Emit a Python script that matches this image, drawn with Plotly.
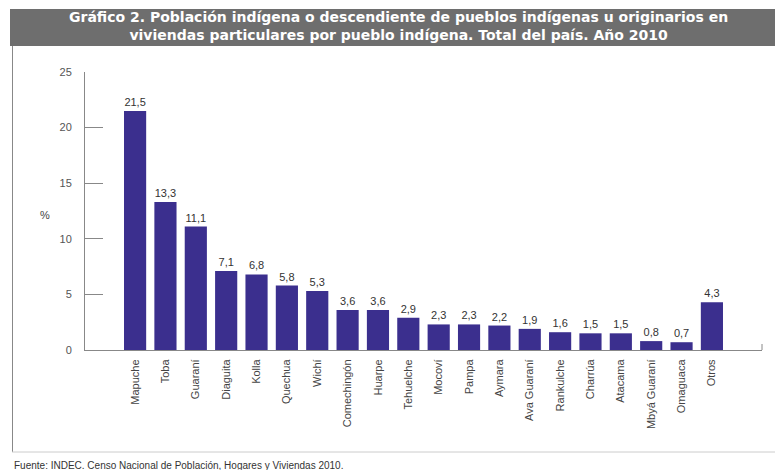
import plotly.graph_objects as go

pueblos = ["Mapuche", "Toba", "Guaraní", "Diaguita", "Kolla", "Quechua", "Wichí",
           "Comechingón", "Huarpe", "Tehuelche", "Mocoví", "Pampa", "Aymara",
           "Ava Guaraní", "Rankulche", "Charrúa", "Atacama", "Mbyá Guaraní",
           "Omaguaca", "Otros"]
porcentajes = [21.5, 13.3, 11.1, 7.1, 6.8, 5.8, 5.3, 3.6, 3.6, 2.9, 2.3, 2.3, 2.2,
               1.9, 1.6, 1.5, 1.5, 0.8, 0.7, 4.3]
y_ticks = [0, 5, 10, 15, 20, 25]

etiquetas = [f"{v:.1f}".replace(".", ",") for v in porcentajes]

W, H = 775, 470
L, R, T, B = 85, 13, 72, 120
pw = W - L - R
ph = H - T - B

def px(x):
    return (x - L) / pw

def py(y):
    return (H - B - y) / ph

fig = go.Figure(go.Bar(
    x=pueblos, y=porcentajes, text=etiquetas, textposition="outside",
    marker=dict(color="#3b2f8e", line=dict(width=0)),
    textfont=dict(size=11, color="#333333", family="Liberation Sans"),
    cliponaxis=False, width=0.73,
))

shapes = [
    dict(type="rect", xref="paper", yref="paper", x0=px(10), x1=px(775), y0=py(46), y1=py(9),
         fillcolor="#6e6e6e", line=dict(width=0), layer="below"),
    dict(type="line", xref="paper", yref="paper", x0=px(12.5), x1=px(12.5), y0=py(452), y1=py(46),
         line=dict(color="#888888", width=1)),
    dict(type="line", xref="paper", yref="paper", x0=px(12), x1=px(775), y0=py(452), y1=py(452),
         line=dict(color="#cccccc", width=1)),
    dict(type="line", xref="paper", yref="paper", x0=1, x1=1, y0=0, y1=py(344),
         line=dict(color="#888888", width=1)),
]

annotations = [
    dict(xref="paper", yref="paper", x=px(398), y=py(26), xanchor="center", yanchor="middle",
         text="<b>Gráfico 2. Población indígena o descendiente de pueblos indígenas u originarios en<br>"
              "viviendas particulares por pueblo indígena. Total del país. Año 2010</b>",
         showarrow=False, font=dict(size=14, color="white", family="DejaVu Sans")),
    dict(xref="paper", yref="paper", x=px(45), y=py(215), xanchor="center", yanchor="middle",
         text="%", showarrow=False, font=dict(size=11, color="#444444", family="Liberation Sans")),
    dict(xref="paper", yref="paper", x=px(12), y=py(465), xanchor="left", yanchor="middle",
         text="Fuente: INDEC. Censo Nacional de Población, Hogares y Viviendas 2010.",
         showarrow=False, font=dict(size=10, color="#333333", family="Liberation Sans Narrow, Liberation Sans")),
]

fig.update_layout(
    width=W, height=H, margin=dict(l=L, r=R, t=T, b=B),
    paper_bgcolor="white", plot_bgcolor="white",
    showlegend=False, shapes=shapes, annotations=annotations,
    font=dict(family="Liberation Sans", color="#444444"),
    bargap=0.27,
)
fig.update_xaxes(
    range=[-1.65, 20.65], showline=True, linecolor="#888888", linewidth=1,
    ticks="", tickangle=-90, tickfont=dict(size=11, color="#444444"),
    ticklabelstandoff=4,
    showgrid=False, zeroline=False, fixedrange=True,
)
fig.update_yaxes(
    range=[0, 25], tickvals=y_ticks, showline=True, linecolor="#888888", linewidth=1,
    ticks="inside", ticklen=18, tickcolor="#888888", tickwidth=1,
    tickfont=dict(size=11, color="#555555"), ticklabelstandoff=10,
    showgrid=False, zeroline=False, fixedrange=True,
)

fig.write_html("out.html")
